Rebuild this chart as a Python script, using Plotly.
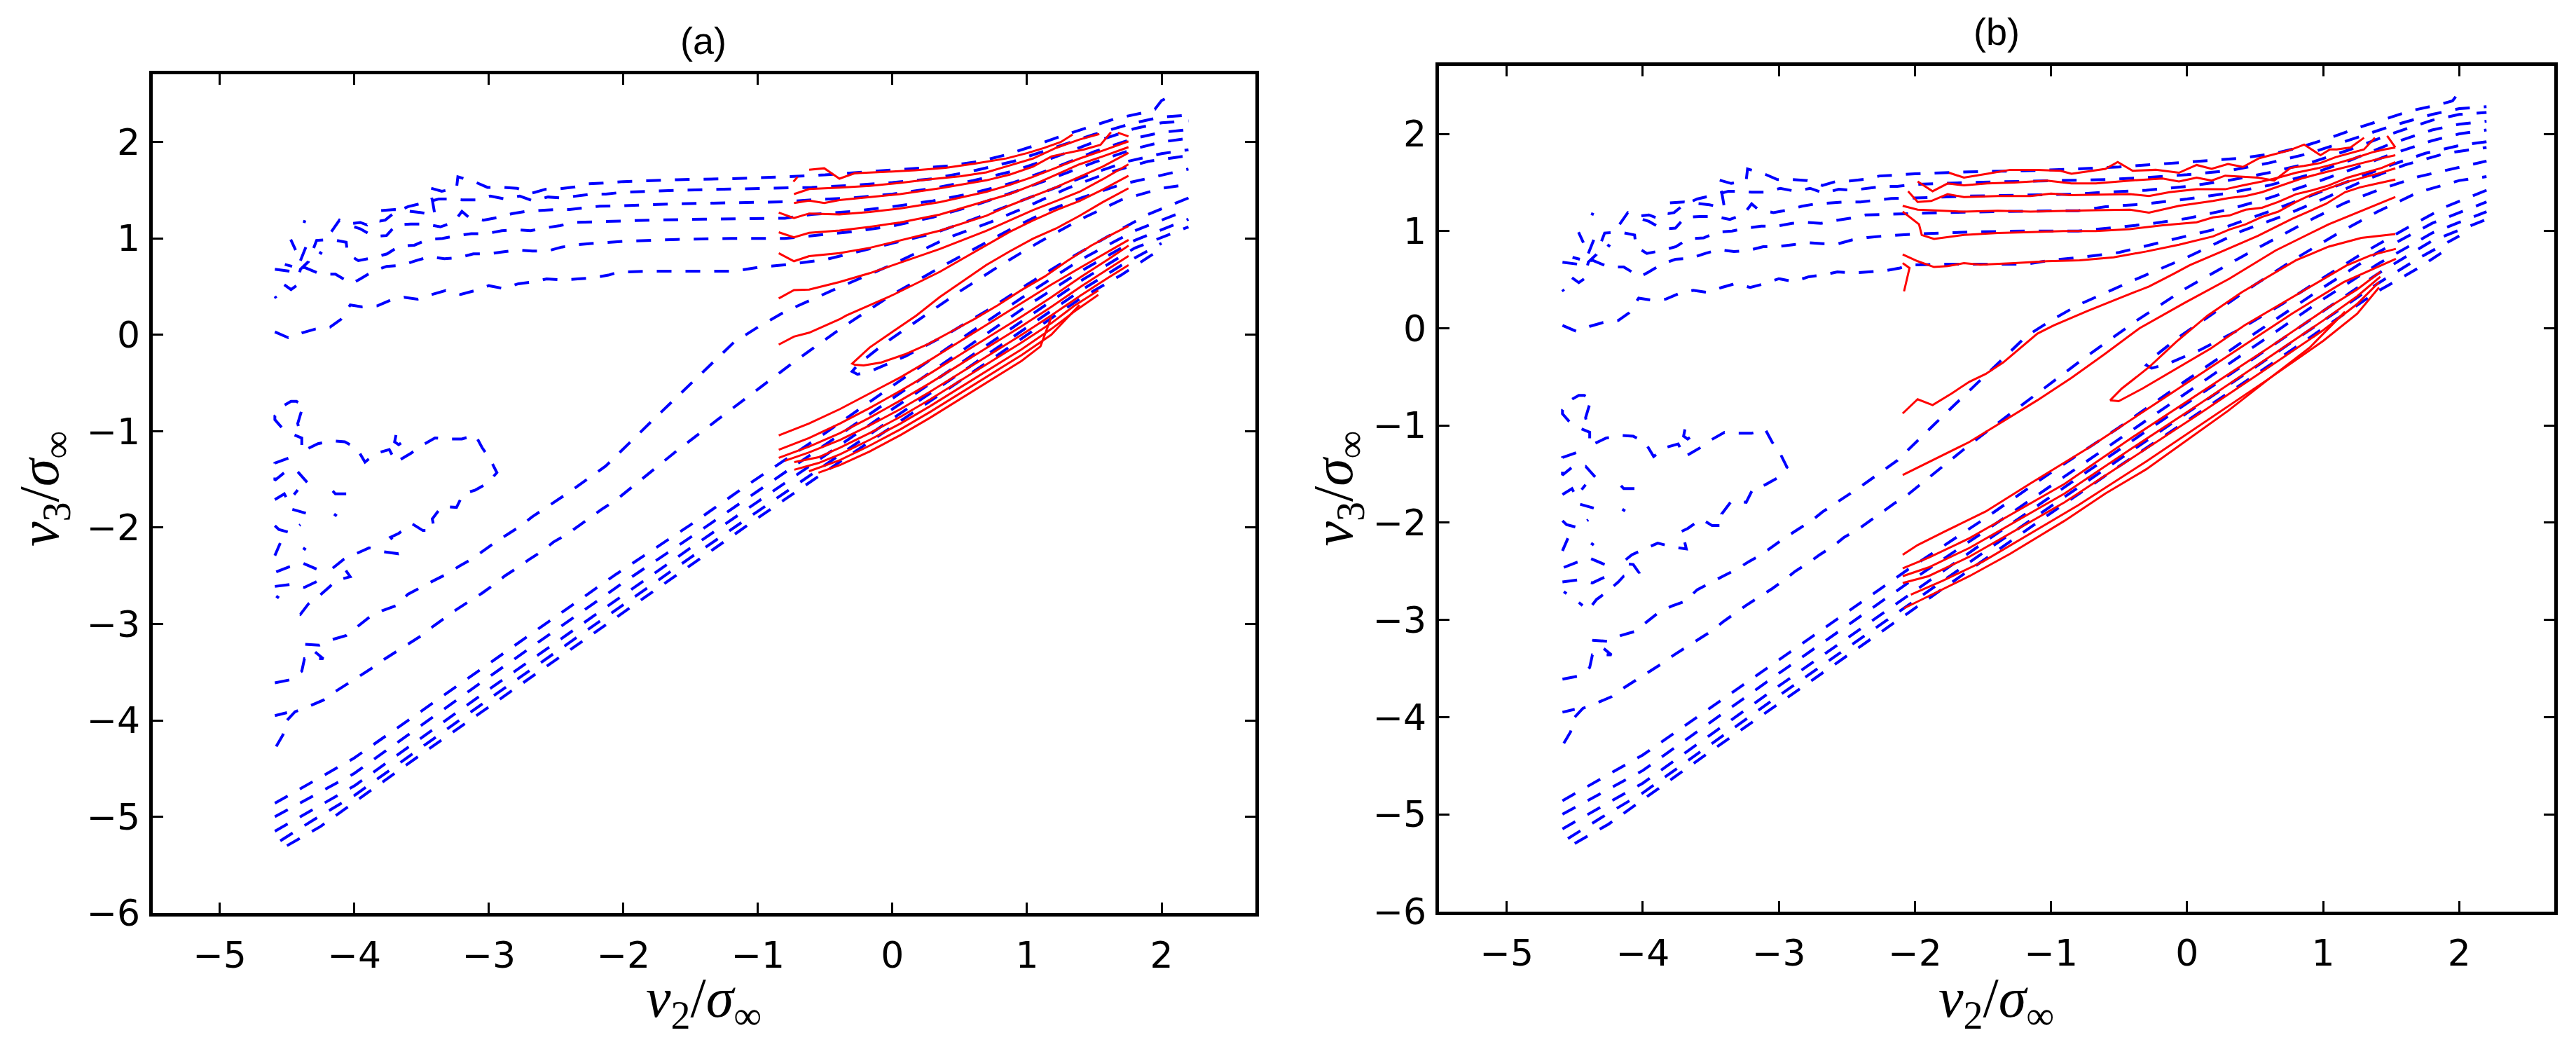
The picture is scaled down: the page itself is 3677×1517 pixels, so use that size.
import plotly.graph_objects as go

# ---------------- tick values / labels ----------------
X_TICKS = [-5, -4, -3, -2, -1, 0, 1, 2]
Y_TICKS = [-6, -5, -4, -3, -2, -1, 0, 1, 2]
X_RANGE = [-5.5, 2.7]
Y_RANGE = [-6.0, 2.7]
PANEL_TITLES = ["(a)", "(b)"]

# ---------------- blue dashed contours (same in both panels) ----------------
blue_b1 = [(-4.59,0.03),(-4.49,-0.03),(-4.39,0.02),(-4.29,0.06),(-4.18,0.08),(-4.10,0.16),(-4.03,0.31),(-3.94,0.29),(-3.83,0.30),(-3.73,0.36),(-3.63,0.39),(-3.53,0.37),(-3.42,0.42),(-3.32,0.46),(-3.21,0.42),(-3.10,0.46),(-3.00,0.51),(-2.89,0.48),(-2.78,0.53),(-2.67,0.55),(-2.57,0.58),(-2.45,0.57),(-2.34,0.58),(-2.23,0.59),(-2.11,0.62),(-2.04,0.65),(-1.80,0.66),(-1.49,0.66),(-1.18,0.66),(-1.00,0.70),(-0.78,0.73),(-0.50,0.78),(-0.30,0.85),(0.00,0.95),(0.30,1.05),(0.60,1.20),(0.90,1.36),(1.20,1.52),(1.50,1.68),(1.75,1.80),(2.00,1.88),(2.20,1.92)]
blue_b2 = [(-4.59,0.68),(-4.48,0.66),(-4.37,0.70),(-4.25,0.63),(-4.14,0.63),(-4.05,0.55),(-4.02,0.53),(-3.955,0.58),(-3.86,0.66),(-3.76,0.71),(-3.65,0.72),(-3.54,0.77),(-3.44,0.81),(-3.33,0.79),(-3.225,0.80),(-3.115,0.84),(-3.006,0.84),(-2.897,0.86),(-2.785,0.88),(-2.676,0.87),(-2.562,0.87),(-2.459,0.91),(-2.35,0.934),(-2.24,0.948),(-2.125,0.961),(-2.0,0.97),(-1.6,0.99),(-1.2,1.0),(-0.8,1.0),(-0.6,1.03),(-0.3,1.07),(0.0,1.13),(0.3,1.22),(0.6,1.34),(0.9,1.48),(1.2,1.63),(1.5,1.79),(1.8,1.93),(2.0,2.0),(2.2,2.04)]
blue_b3 = [(-4.52,0.52),(-4.47,0.47),(-4.43,0.51),(-4.40,0.68),(-4.34,0.76),(-4.28,0.98),(-4.17,0.99),(-4.06,0.96),(-4.05,0.84),(-3.97,0.77),(-3.86,0.80),(-3.756,0.84),(-3.666,0.92),(-3.553,0.93),(-3.452,0.99),(-3.344,1.0),(-3.235,1.03),(-3.13,1.05),(-3.016,1.05),(-2.904,1.08),(-2.797,1.09),(-2.69,1.08),(-2.578,1.11),(-2.471,1.133),(-2.363,1.166),(-2.254,1.172),(-2.145,1.172),(-1.8,1.19),(-1.4,1.2),(-1.0,1.21),(-0.8,1.21),(-0.6,1.25),(-0.3,1.28),(0.0,1.33),(0.3,1.39),(0.6,1.47),(0.9,1.58),(1.2,1.73),(1.5,1.9),(1.8,2.04),(2.0,2.1),(2.2,2.13)]
blue_b4 = [(-4.0,1.12),(-3.955,1.10),(-3.855,1.02),(-3.76,1.03),(-3.69,1.14),(-3.58,1.15),(-3.47,1.15),(-3.36,1.12),(-3.26,1.17),(-3.20,1.28),(-3.15,1.22),(-3.04,1.19),(-2.94,1.215),(-2.83,1.256),(-2.73,1.28),(-2.62,1.29),(-2.51,1.30),(-2.40,1.30),(-2.29,1.316),(-2.175,1.335),(-2.0,1.34),(-1.6,1.36),(-1.2,1.37),(-0.8,1.38),(-0.6,1.40),(-0.3,1.42),(0.0,1.46),(0.3,1.52),(0.6,1.60),(0.9,1.70),(1.2,1.84),(1.5,2.0),(1.8,2.14),(2.0,2.2),(2.2,2.22)]
blue_b5 = [(-4.17,1.07),(-4.11,1.19),(-4.05,1.15),(-3.955,1.166),(-3.905,1.14),(-3.865,1.19),(-3.81,1.18),(-3.77,1.19),(-3.70,1.27),(-3.60,1.33),(-3.45,1.38),(-3.37,1.41),(-3.29,1.41),(-3.20,1.40),(-3.10,1.40),(-2.99,1.44),(-2.88,1.41),(-2.77,1.44),(-2.67,1.39),(-2.56,1.43),(-2.46,1.42),(-2.35,1.44),(-2.24,1.46),(-2.13,1.46),(-2.0,1.48),(-1.6,1.50),(-1.2,1.51),(-0.8,1.52),(-0.6,1.53),(-0.3,1.55),(0.0,1.58),(0.3,1.62),(0.6,1.70),(0.9,1.80),(1.2,1.94),(1.5,2.08),(1.8,2.20),(2.0,2.26),(2.2,2.28)]
blue_b6 = [(-3.80,1.29),(-3.70,1.30),(-3.51,1.27),(-3.40,1.24),(-3.42,1.40),(-3.45,1.53),(-3.35,1.49),(-3.24,1.52),(-3.23,1.64),(-3.11,1.59),(-3.01,1.53),(-2.90,1.53),(-2.79,1.52),(-2.68,1.47),(-2.58,1.51),(-2.48,1.515),(-2.36,1.534),(-2.26,1.567),(-2.15,1.575),(-2.0,1.59),(-1.6,1.61),(-1.2,1.62),(-0.8,1.64),(-0.5,1.66),(-0.2,1.69),(0.1,1.72),(0.4,1.75),(0.65,1.80),(0.85,1.87),(1.05,1.96),(1.25,2.06),(1.45,2.15),(1.65,2.24),(1.85,2.30),(1.95,2.34),(2.0,2.43),(2.04,2.46)]
blue_frag1 = [(-4.516,0.73),(-4.462,0.71)]
blue_frag2 = [(-4.472,0.989),(-4.436,0.88)]
blue_frag3 = [(-4.40,0.77),(-4.36,0.91)]
blue_frag4 = [(-4.38,1.18),(-4.36,1.17)]
blue_frag5 = [(-4.26,0.86),(-4.24,0.84)]
blue_frag6 = [(-4.59,0.40),(-4.58,0.38)]

blue_m1 = [(-4.59,-3.61),(-4.48,-3.58),(-4.39,-3.49),(-4.37,-3.36),(-4.23,-3.36),(-4.30,-3.28),(-4.37,-3.21),(-4.26,-3.22),(-4.16,-3.16),(-4.06,-3.12),(-3.97,-3.02),(-3.88,-2.92),(-3.79,-2.86),(-3.69,-2.81),(-3.60,-2.69),(-3.51,-2.62),(-3.41,-2.55),(-3.31,-2.48),(-3.22,-2.40),(-3.13,-2.33),(-3.04,-2.24),(-2.95,-2.15),(-2.85,-2.06),(-2.76,-1.98),(-2.68,-1.89),(-2.58,-1.80),(-2.50,-1.72),(-2.40,-1.63),(-2.22,-1.45),(-2.13,-1.36),(-1.8,-0.91),(-1.5,-0.51),(-1.18,-0.08),(-1.0,0.08),(-0.8,0.24),(-0.4,0.49),(0.0,0.73),(0.4,1.0),(0.73,1.17),(1.0,1.33),(1.3,1.52),(1.6,1.68),(1.9,1.80),(2.2,1.86)]
blue_m2 = [(-4.58,-4.27),(-4.53,-4.15),(-4.50,-4.0),(-4.44,-3.91),(-4.33,-3.85),(-4.23,-3.79),(-4.14,-3.70),(-4.05,-3.62),(-3.95,-3.53),(-3.86,-3.45),(-3.77,-3.36),(-3.68,-3.28),(-3.59,-3.20),(-3.50,-3.12),(-3.41,-3.02),(-3.32,-2.93),(-3.24,-2.85),(-3.14,-2.76),(-3.05,-2.68),(-2.96,-2.59),(-2.88,-2.50),(-2.78,-2.41),(-2.70,-2.33),(-2.60,-2.24),(-2.52,-2.15),(-2.42,-2.07),(-2.33,-1.98),(-2.24,-1.89),(-2.15,-1.80),(-2.06,-1.72),(-1.6,-1.20),(-1.3,-0.88),(-1.07,-0.64),(-0.74,-0.29),(-0.37,0.08),(-0.01,0.41),(0.42,0.75),(0.87,1.09),(1.16,1.29),(1.4,1.42),(1.7,1.56),(2.0,1.66),(2.2,1.72)]
blue_m2_stub = [(-4.59,-3.95),(-4.50,-3.92)]
blue_loop = [(2.2,1.42),(1.9,1.25),(1.6,1.02),(1.3,0.78),(1.0,0.52),(0.7,0.25),(0.4,0.0),(0.1,-0.22),(-0.15,-0.37),(-0.26,-0.41),(-0.30,-0.38),(-0.25,-0.30),(-0.05,-0.08),(0.2,0.16),(0.5,0.45),(0.8,0.72),(1.1,0.97),(1.4,1.2),(1.7,1.4),(2.0,1.52),(2.2,1.56)]
blue_lb1 = [(-4.59,-4.86),(-4.2,-4.55),(-4.0,-4.39),(-3.6,-4.0),(-3.0,-3.41),(-2.5,-2.92),(-2.05,-2.48),(-1.5,-1.97),(-1.07,-1.55),(-0.5,-1.02),(0.0,-0.53),(0.5,-0.05),(1.0,0.42),(1.4,0.78),(1.8,1.08),(2.2,1.3)]
blue_lb2 = [(-4.59,-5.0),(-4.3,-4.78),(-4.0,-4.55),(-3.5,-4.05),(-3.0,-3.55),(-2.5,-3.06),(-2.0,-2.57),(-1.5,-2.1),(-1.0,-1.62),(-0.5,-1.14),(0.0,-0.66),(0.5,-0.18),(1.0,0.3),(1.4,0.66),(1.8,0.98),(2.2,1.2)]
blue_lb3 = [(-4.59,-5.15),(-4.3,-4.92),(-4.0,-4.68),(-3.5,-4.18),(-3.0,-3.68),(-2.5,-3.19),(-2.0,-2.7),(-1.5,-2.21),(-1.0,-1.73),(-0.5,-1.25),(0.0,-0.77),(0.5,-0.3),(1.0,0.18),(1.4,0.56),(1.8,0.9),(2.2,1.12)]
blue_lb4 = [(-4.55,-5.25),(-4.3,-5.03),(-4.0,-4.78),(-3.5,-4.28),(-3.0,-3.78),(-2.5,-3.29),(-2.0,-2.8),(-1.5,-2.31),(-1.0,-1.83),(-0.5,-1.35),(0.0,-0.87),(0.5,-0.4),(1.0,0.08),(1.4,0.46),(1.7,0.72),(2.0,0.95)]
blue_lb5 = [(-4.5,-5.3),(-4.25,-5.1),(-4.0,-4.85),(-3.5,-4.35),(-3.0,-3.86),(-2.5,-3.37),(-2.0,-2.88),(-1.5,-2.39),(-1.0,-1.9),(-0.5,-1.42),(0.0,-0.95),(0.5,-0.48),(1.0,0.0),(1.4,0.38),(1.7,0.62),(1.95,0.85)]

blue_blob_a = [(-4.54,-0.96),(-4.59,-0.88),(-4.59,-0.84),(-4.52,-0.73),(-4.47,-0.69),(-4.43,-0.69),(-4.37,-0.74),(-4.39,-0.78),(-4.42,-0.92),(-4.41,-0.98),(-4.46,-1.03),(-4.39,-1.07),(-4.39,-1.21),(-4.27,-1.13),(-4.17,-1.10),(-4.07,-1.11),(-3.98,-1.18),(-3.92,-1.32),(-3.84,-1.23),(-3.74,-1.19),(-3.69,-1.32),(-3.58,-1.23),(-3.50,-1.15),(-3.40,-1.07),(-3.30,-1.08),(-3.20,-1.08),(-3.10,-1.04),(-3.05,-1.17),(-2.99,-1.29),(-2.94,-1.43),(-3.01,-1.54),(-3.10,-1.61),(-3.19,-1.65),(-3.24,-1.79),(-3.35,-1.78),(-3.42,-1.91),(-3.41,-1.98),(-3.42,-2.03),(-3.49,-2.03),(-3.57,-1.96),(-3.67,-2.06),(-3.73,-2.10),(-3.70,-2.15),(-3.68,-2.27),(-3.78,-2.25),(-3.89,-2.21),(-3.97,-2.26),(-4.08,-2.33),(-4.16,-2.42),(-4.07,-2.43),(-4.03,-2.51),(-4.14,-2.55),(-4.18,-2.61),(-4.27,-2.72),(-4.34,-2.79),(-4.40,-2.90),(-4.47,-2.82)]
blue_blob_hook = [(-3.69,-1.04),(-3.70,-1.11),(-3.67,-1.14),(-3.65,-1.12)]
blue_blob_b = [(-4.49,-1.28),(-4.59,-1.33),(-4.59,-1.51),(-4.52,-1.43),(-4.42,-1.42),(-4.35,-1.53)]
blue_blob_c = [(-4.59,-1.71),(-4.52,-1.65),(-4.49,-1.73),(-4.42,-1.61)]
blue_blob_d = [(-4.46,-1.81),(-4.36,-1.85)]
blue_blob_e = [(-4.16,-1.62),(-4.14,-1.65),(-4.02,-1.65)]
blue_blob_f = [(-4.59,-1.98),(-4.56,-2.02),(-4.48,-2.05),(-4.40,-1.97)]
blue_blob_g = [(-4.59,-2.29),(-4.55,-2.16)]
blue_blob_h = [(-4.58,-2.46),(-4.49,-2.41),(-4.38,-2.37),(-4.28,-2.43)]
blue_blob_i = [(-4.59,-2.61),(-4.48,-2.59),(-4.37,-2.62),(-4.28,-2.56)]
blue_blob_j = [(-4.58,-2.71),(-4.56,-2.73)]
blue_blob_dot1 = [(-4.15,-1.86),(-4.13,-1.88)]
blue_blob_dot2 = [(-4.38,-2.21),(-4.36,-2.23)]

BLUE_LINES = [blue_b1, blue_b2, blue_b3, blue_b4, blue_b5, blue_b6,
              blue_frag1, blue_frag2, blue_frag3, blue_frag4, blue_frag5, blue_frag6,
              blue_m1, blue_m2, blue_m2_stub, blue_loop,
              blue_lb1, blue_lb2, blue_lb3, blue_lb4, blue_lb5,
              blue_blob_a, blue_blob_hook, blue_blob_b, blue_blob_c, blue_blob_d,
              blue_blob_e, blue_blob_f, blue_blob_g, blue_blob_h, blue_blob_i,
              blue_blob_j, blue_blob_dot1, blue_blob_dot2]

# ---------------- red contours, panel (a) ----------------
red_a_stub = [(-0.736,1.589),(-0.705,1.639)]
red_a_1 = [(-0.619,1.713),(-0.507,1.728),(-0.394,1.620),(-0.281,1.676),(-0.056,1.691),(0.170,1.707),(0.395,1.732),(0.620,1.778),(0.846,1.830),(1.003,1.886),(1.127,1.939),(1.251,2.000),(1.339,2.078)]
red_a_2 = [(-0.732,1.46),(-0.619,1.512),(-0.394,1.528),(-0.168,1.546),(0.057,1.577),(0.282,1.614),(0.508,1.645),(0.698,1.686),(0.871,1.757),(1.044,1.829),(1.217,1.94),(1.39,2.026),(1.538,2.083)]
red_a_3 = [(-0.732,1.367),(-0.619,1.392),(-0.507,1.367),(-0.394,1.398),(-0.168,1.429),(0.057,1.46),(0.351,1.52),(0.698,1.603),(0.871,1.662),(1.044,1.745),(1.183,1.852),(1.304,1.888),(1.425,1.924),(1.546,1.971),(1.624,2.102)]
red_a_3b = [(1.676,2.097),(1.754,2.059)]
red_a_4 = [(-0.845,1.268),(-0.732,1.212),(-0.619,1.259),(-0.394,1.249),(-0.168,1.274),(0.057,1.311),(0.351,1.377),(0.698,1.484),(0.871,1.555),(1.044,1.639),(1.217,1.734),(1.39,1.829),(1.564,1.912),(1.754,2.007)]
red_a_5 = [(-0.845,1.064),(-0.732,1.011),(-0.619,1.058),(-0.394,1.082),(-0.168,1.12),(0.057,1.166),(0.351,1.247),(0.698,1.389),(0.871,1.46),(1.044,1.555),(1.217,1.662),(1.39,1.769),(1.564,1.852),(1.754,1.947)]
red_a_6 = [(-0.845,0.847),(-0.732,0.764),(-0.619,0.817),(-0.394,0.847),(-0.168,0.903),(0.057,0.98),(0.351,1.08),(0.698,1.235),(0.871,1.342),(1.044,1.437),(1.217,1.532),(1.39,1.639),(1.564,1.746),(1.754,1.888)]
red_a_7 = [(-0.845,0.378),(-0.732,0.464),(-0.619,0.47),(-0.394,0.548),(-0.168,0.64),(0.005,0.724),(0.351,0.89),(0.698,1.08),(0.871,1.187),(1.044,1.294),(1.217,1.389),(1.39,1.484),(1.564,1.615),(1.754,1.769)]
red_a_8 = [(-0.845,-0.101),(-0.732,-0.018),(-0.619,0.022),(-0.394,0.161),(-0.342,0.201),(0.005,0.415),(0.351,0.653),(0.698,0.926),(0.871,1.068),(1.044,1.187),(1.217,1.294),(1.39,1.389),(1.564,1.508),(1.754,1.65)]
red_a_loop = [(1.754,1.128),(1.65,1.056),(1.477,0.926),(1.304,0.771),(1.131,0.605),(0.957,0.463),(0.784,0.308),(0.611,0.165),(0.438,0.035),(0.264,-0.096),(0.091,-0.203),(-0.082,-0.286),(-0.214,-0.318),(-0.28,-0.31),(-0.299,-0.298),(-0.169,-0.131),(0.004,0.035),(0.178,0.201),(0.351,0.391),(0.524,0.557),(0.697,0.724),(0.871,0.866),(1.044,0.997),(1.217,1.104),(1.39,1.235),(1.564,1.377),(1.754,1.52)]
red_a_low1 = [(-0.845,-1.044),(-0.62,-0.92),(-0.39,-0.77),(-0.17,-0.61),(0.06,-0.44),(0.28,-0.26),(0.51,-0.06),(0.73,0.13),(0.96,0.33),(1.18,0.52),(1.4,0.7),(1.6,0.86),(1.755,0.985)]
red_a_low2 = [(-0.845,-1.193),(-0.62,-1.07),(-0.39,-0.92),(-0.17,-0.76),(0.06,-0.58),(0.28,-0.40),(0.51,-0.20),(0.73,-0.01),(0.96,0.19),(1.18,0.39),(1.4,0.6),(1.6,0.78),(1.755,0.926)]
red_a_low3 = [(-0.845,-1.276),(-0.62,-1.16),(-0.39,-1.02),(-0.17,-0.86),(0.06,-0.68),(0.28,-0.50),(0.51,-0.30),(0.73,-0.11),(0.96,0.09),(1.18,0.29),(1.4,0.5),(1.6,0.68),(1.755,0.819)]
red_a_low4 = [(-0.80,-1.307),(-0.62,-1.22),(-0.39,-1.09),(-0.17,-0.94),(0.06,-0.77),(0.28,-0.59),(0.51,-0.39),(0.73,-0.20),(0.96,0.0),(1.18,0.2),(1.4,0.41),(1.6,0.59),(1.755,0.724)]
red_a_low5 = [(-0.73,-1.32),(-0.55,-1.27),(-0.39,-1.17),(-0.17,-1.02),(0.06,-0.85),(0.28,-0.67),(0.51,-0.47),(0.73,-0.28),(0.96,-0.08),(1.18,0.12),(1.35,0.30),(1.53,0.46)]
red_a_low6 = [(-0.73,-1.40),(-0.55,-1.33),(-0.39,-1.24),(-0.17,-1.09),(0.06,-0.92),(0.28,-0.74),(0.51,-0.54),(0.73,-0.35),(0.96,-0.15),(1.18,0.06),(1.35,0.24),(1.53,0.415)]
red_a_low7 = [(-0.62,-1.415),(-0.39,-1.30),(-0.17,-1.15),(0.06,-0.98),(0.28,-0.80),(0.51,-0.60),(0.73,-0.41),(0.96,-0.21),(1.18,0.0),(1.39,0.31)]
red_a_low8 = [(-0.55,-1.43),(-0.39,-1.35),(-0.17,-1.21),(0.06,-1.04),(0.28,-0.86),(0.51,-0.66),(0.73,-0.47),(0.96,-0.27),(1.1,-0.12),(1.18,0.18)]

RED_A_LINES = [red_a_stub, red_a_1, red_a_2, red_a_3, red_a_3b, red_a_4, red_a_5,
               red_a_6, red_a_7, red_a_8, red_a_loop,
               red_a_low1, red_a_low2, red_a_low3, red_a_low4,
               red_a_low5, red_a_low6, red_a_low7, red_a_low8]

# ---------------- red contours, panel (b) ----------------
red_b_1 = [(-1.75,1.60),(-1.64,1.55),(-1.47,1.59),(-1.30,1.63),(-1.10,1.63),(-0.93,1.62),(-0.85,1.59),(-0.71,1.62),(-0.60,1.64),(-0.51,1.71),(-0.40,1.62),(-0.23,1.63),(-0.06,1.60),(0.07,1.68),(0.18,1.64),(0.30,1.69),(0.41,1.66),(0.53,1.75),(0.75,1.83),(0.86,1.89),(0.98,1.78),(1.05,1.84),(1.10,1.84),(1.20,1.86),(1.30,1.96)]
red_b_2 = [(-1.98,1.51),(-1.87,1.41),(-1.76,1.49),(-1.64,1.47),(-1.47,1.49),(-1.27,1.50),(-1.03,1.52),(-0.85,1.49),(-0.67,1.49),(-0.42,1.52),(-0.18,1.54),(-0.06,1.51),(0.07,1.55),(0.18,1.52),(0.28,1.57),(0.41,1.56),(0.52,1.55),(0.64,1.52),(0.76,1.65),(0.86,1.67),(0.98,1.70),(1.09,1.76),(1.20,1.80),(1.30,1.84),(1.38,1.96)]
red_b_2b = [(1.47,1.98),(1.53,1.86)]
red_b_3 = [(-2.05,1.41),(-1.98,1.30),(-1.88,1.31),(-1.76,1.38),(-1.64,1.35),(-1.39,1.36),(-1.15,1.36),(-1.0,1.385),(-0.86,1.37),(-0.67,1.375),(-0.42,1.38),(-0.28,1.36),(-0.13,1.40),(0.07,1.43),(0.28,1.43),(0.41,1.47),(0.55,1.51),(0.67,1.55),(0.80,1.60),(0.97,1.65),(1.11,1.70),(1.23,1.75),(1.36,1.81),(1.45,1.84),(1.53,1.86)]
red_b_4 = [(-2.09,1.26),(-1.98,1.22),(-1.64,1.20),(-1.39,1.21),(-1.15,1.20),(-0.91,1.21),(-0.67,1.215),(-0.42,1.22),(-0.28,1.19),(-0.06,1.26),(0.19,1.31),(0.31,1.34),(0.43,1.36),(0.55,1.40),(0.70,1.47),(0.84,1.54),(0.97,1.59),(1.11,1.64),(1.25,1.69),(1.40,1.74),(1.53,1.78)]
red_b_5 = [(-2.09,1.20),(-1.97,1.07),(-1.95,0.96),(-1.86,0.92),(-1.64,0.96),(-1.39,0.98),(-1.15,0.99),(-0.91,1.00),(-0.67,1.00),(-0.42,1.02),(-0.18,1.06),(0.07,1.09),(0.19,1.14),(0.31,1.16),(0.43,1.22),(0.55,1.24),(0.67,1.30),(0.80,1.38),(0.92,1.42),(1.04,1.47),(1.18,1.55),(1.31,1.60),(1.43,1.65),(1.53,1.71)]
red_b_6 = [(-2.09,0.76),(-1.98,0.69),(-1.86,0.63),(-1.76,0.64),(-1.64,0.67),(-1.52,0.655),(-1.27,0.67),(-1.03,0.69),(-0.79,0.70),(-0.54,0.73),(-0.30,0.79),(-0.06,0.86),(0.19,0.945),(0.31,1.015),(0.43,1.07),(0.55,1.145),(0.67,1.20),(0.80,1.30),(0.92,1.38),(1.04,1.44),(1.16,1.50),(1.28,1.545),(1.40,1.59),(1.53,1.645)]
red_b_stub = [(-2.09,0.67),(-2.04,0.62),(-2.08,0.38)]
red_b_m1 = [(-2.09,-0.876),(-1.98,-0.73),(-1.87,-0.79),(-1.73,-0.67),(-1.60,-0.55),(-1.48,-0.47),(-1.35,-0.35),(-1.23,-0.21),(-1.10,-0.055),(-0.98,0.03),(-0.73,0.18),(-0.48,0.32),(-0.28,0.43),(-0.10,0.56),(0.02,0.65),(0.27,0.80),(0.52,0.95),(0.77,1.125),(1.02,1.28),(1.16,1.40),(1.27,1.45),(1.40,1.49),(1.53,1.53)]
red_b_m2 = [(-2.09,-1.51),(-1.85,-1.345),(-1.60,-1.17),(-1.35,-0.955),(-1.10,-0.74),(-0.85,-0.51),(-0.60,-0.26),(-0.35,0.0),(-0.02,0.26),(0.31,0.51),(0.65,0.80),(1.04,1.07),(1.30,1.22),(1.53,1.35)]
red_b_loop = [(1.534,0.817),(1.346,0.749),(1.171,0.646),(0.921,0.441),(0.672,0.236),(0.422,0.03),(0.172,-0.209),(-0.078,-0.414),(-0.328,-0.62),(-0.503,-0.75),(-0.565,-0.74),(-0.48,-0.62),(-0.28,-0.40),(-0.08,-0.14),(0.15,0.13),(0.40,0.37),(0.65,0.58),(0.80,0.70),(1.04,0.84),(1.28,0.93),(1.53,0.97)]
red_b_low1 = [(-2.09,-2.33),(-1.98,-2.23),(-1.78,-2.09),(-1.48,-1.885),(-1.15,-1.595),(-0.73,-1.235),(-0.23,-0.773),(0.27,-0.312),(0.77,0.15),(1.15,0.475),(1.534,0.715)]
red_b_low2 = [(-2.09,-2.47),(-1.9,-2.36),(-1.6,-2.16),(-1.3,-1.92),(-0.9,-1.6),(-0.4,-1.12),(0.1,-0.66),(0.6,-0.2),(1.0,0.18),(1.25,0.4),(1.42,0.58)]
red_b_low3 = [(-2.09,-2.55),(-1.9,-2.46),(-1.6,-2.26),(-1.3,-2.02),(-0.9,-1.7),(-0.4,-1.23),(0.1,-0.77),(0.6,-0.3),(1.0,0.08),(1.25,0.33),(1.42,0.53)]
red_b_low4 = [(-2.09,-2.62),(-1.9,-2.55),(-1.6,-2.35),(-1.3,-2.11),(-0.9,-1.79),(-0.4,-1.33),(0.1,-0.87),(0.6,-0.4),(1.0,-0.02),(1.25,0.25),(1.41,0.475)]
red_b_low5 = [(-2.03,-2.74),(-1.8,-2.6),(-1.5,-2.4),(-1.2,-2.15),(-0.8,-1.82),(-0.3,-1.37),(0.2,-0.9),(0.6,-0.52),(1.0,-0.13),(1.25,0.15),(1.41,0.42)]
red_b_low6 = [(-2.08,-2.88),(-1.85,-2.72),(-1.6,-2.55),(-1.3,-2.32),(-0.9,-1.98),(-0.6,-1.7),(-0.3,-1.45),(0.0,-1.15),(0.3,-0.85),(0.62,-0.5),(0.9,-0.2),(1.16,0.17)]

RED_B_LINES = [red_b_1, red_b_2, red_b_2b, red_b_3, red_b_4, red_b_5, red_b_6, red_b_stub,
               red_b_m1, red_b_m2, red_b_loop,
               red_b_low1, red_b_low2, red_b_low3, red_b_low4, red_b_low5, red_b_low6]

BLUE = "#0000ff"
RED = "#ff0000"

fig = go.Figure()


def add_line(pts, color, dash, width, xa, ya):
    xs = [p[0] for p in pts]
    ys = [p[1] for p in pts]
    fig.add_trace(go.Scatter(x=xs, y=ys, mode="lines",
                             line=dict(color=color, width=width, dash=dash),
                             xaxis=xa, yaxis=ya, showlegend=False, hoverinfo="skip"))


for xa, ya, reds in (("x", "y", RED_A_LINES), ("x2", "y2", RED_B_LINES)):
    for ln in BLUE_LINES:
        add_line(ln, BLUE, "21px,20px", 4, xa, ya)
    for ln in reds:
        add_line(ln, RED, "solid", 3, xa, ya)

tick_font = dict(family="DejaVu Sans", size=52, color="black")


def xaxis_style(domain, anchor):
    return dict(domain=domain, anchor=anchor, range=X_RANGE, tickmode="array",
                tickvals=X_TICKS, ticktext=[str(v).replace("-", "\u2212") for v in X_TICKS],
                ticks="inside", ticklen=15, tickwidth=2.5, tickcolor="black",
                showline=True, linewidth=5, linecolor="black", mirror="ticks",
                showgrid=False, zeroline=False, tickfont=tick_font,
                ticklabelstandoff=10)


def yaxis_style(domain, anchor):
    return dict(domain=domain, anchor=anchor, range=Y_RANGE, tickmode="array",
                tickvals=Y_TICKS, ticktext=[str(v).replace("-", "\u2212") for v in Y_TICKS],
                ticks="inside", ticklen=15, tickwidth=2.5, tickcolor="black",
                showline=True, linewidth=5, linecolor="black", mirror="ticks",
                showgrid=False, zeroline=False, tickfont=tick_font,
                ticklabelstandoff=2)


label_font = dict(family="Liberation Serif", size=80, color="black")
xlabel = "<i>v</i><sub>2</sub>/<i>σ</i><sub>∞</sub>"
ylabel = "<i>v</i><sub>3</sub>/<i>σ</i><sub>∞</sub>"
title_font = dict(family="Liberation Sans", size=54, color="black")

annotations = [
    dict(text=PANEL_TITLES[0], x=0.2709, y=0.9665, xref="paper", yref="paper",
         showarrow=False, xanchor="center", yanchor="middle", font=title_font),
    dict(text=PANEL_TITLES[1], x=0.7728, y=0.9750, xref="paper", yref="paper",
         showarrow=False, xanchor="center", yanchor="middle", font=title_font),
    dict(text=xlabel, x=0.2709, y=0.044, xref="paper", yref="paper",
         showarrow=False, xanchor="center", yanchor="middle", font=label_font),
    dict(text=xlabel, x=0.7728, y=0.044, xref="paper", yref="paper",
         showarrow=False, xanchor="center", yanchor="middle", font=label_font),
    dict(text=ylabel, x=0.0005, y=0.5366, xref="paper", yref="paper", textangle=-90,
         showarrow=False, xanchor="left", yanchor="middle", font=label_font),
    dict(text=ylabel, x=0.5030, y=0.5366, xref="paper", yref="paper", textangle=-90,
         showarrow=False, xanchor="left", yanchor="middle", font=label_font),
]

fig.update_layout(
    width=3677, height=1517,
    margin=dict(l=0, r=0, t=0, b=0),
    paper_bgcolor="white", plot_bgcolor="white",
    showlegend=False,
    xaxis=xaxis_style([0.0570, 0.4853], "y"),
    yaxis=yaxis_style([0.1290, 0.9338], "x"),
    xaxis2=xaxis_style([0.5563, 0.9895], "y2"),
    yaxis2=yaxis_style([0.1306, 0.9422], "x2"),
    annotations=annotations,
)

fig.write_html("out.html")
